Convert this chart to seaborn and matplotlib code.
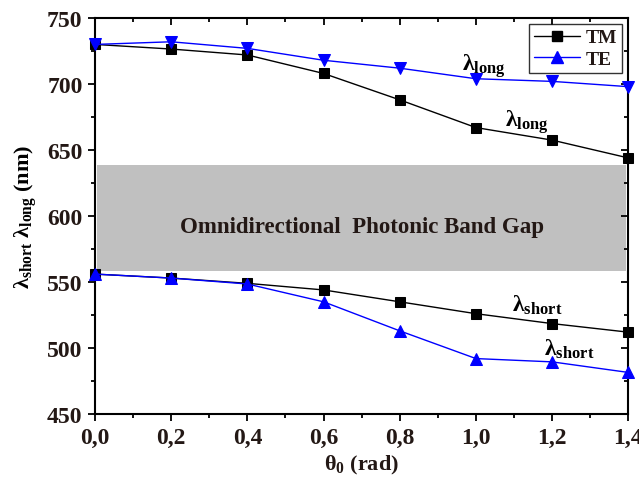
import numpy as np
import pandas as pd
import seaborn as sns
import matplotlib.pyplot as plt
from matplotlib.lines import Line2D
from matplotlib.ticker import MultipleLocator, FuncFormatter

theta = [0.0, 0.2, 0.4, 0.6, 0.8, 1.0, 1.2, 1.4]
tm_long = [730, 726.5, 722, 708, 688, 667, 657.5, 644]
tm_short = [556, 553, 549, 544, 535, 526, 518.5, 512]
te_long = [730, 732, 727, 718, 712, 704, 702, 698]
te_short = [556, 553, 548.5, 535, 513, 492, 489.5, 481.5]
gap_x = [0.005, 1.395]
gap_low, gap_high = 558, 639

sns.set_theme(style="ticks")
plt.rcParams['font.family'] = ['Liberation Serif', 'DejaVu Serif']
plt.rcParams['font.weight'] = 'bold'
plt.rcParams['mathtext.fontset'] = 'custom'
plt.rcParams['mathtext.rm'] = 'Liberation Serif:bold'
plt.rcParams['mathtext.it'] = 'Liberation Serif:bold'
plt.rcParams['mathtext.bf'] = 'Liberation Serif:bold'

fig = plt.figure(figsize=(6.39, 4.89), dpi=100)
ax = fig.add_axes([0.1487, 0.1513, 0.8346, 0.8098])

ax.fill_between(gap_x, gap_low, gap_high, color='#c0c0c0', lw=0, zorder=0)

df = pd.DataFrame({'theta': theta, 'tm_long': tm_long, 'tm_short': tm_short,
                   'te_long': te_long, 'te_short': te_short})

sns.lineplot(data=df, x='theta', y='tm_long', color='black', marker='s', markersize=7,
             markeredgecolor='black', lw=1, ax=ax, clip_on=False, zorder=3)
sns.lineplot(data=df, x='theta', y='tm_short', color='black', marker='s', markersize=7,
             markeredgecolor='black', lw=1, ax=ax, clip_on=False, zorder=3)
sns.lineplot(data=df, x='theta', y='te_long', color='blue', marker='v', markersize=8,
             markeredgecolor='blue', lw=1, ax=ax, clip_on=False, zorder=4)
sns.lineplot(data=df, x='theta', y='te_short', color='blue', marker='^', markersize=8,
             markeredgecolor='blue', lw=1, ax=ax, clip_on=False, zorder=4)

ax.set_xlim(0, 1.4)
ax.set_ylim(450, 750)
ax.xaxis.set_major_locator(MultipleLocator(0.2))
ax.xaxis.set_minor_locator(MultipleLocator(0.1))
ax.yaxis.set_major_locator(MultipleLocator(50))
ax.yaxis.set_minor_locator(MultipleLocator(25))
ax.xaxis.set_major_formatter(FuncFormatter(lambda v, p: f"{v:.1f}".replace('.', ',')))

for s in ax.spines.values():
    s.set_linewidth(1.5)
    s.set_color('black')
ax.tick_params(which='major', direction='out', length=5, width=1.3, labelsize=17,
               colors='black', labelcolor='#231815', pad=4)
ax.tick_params(which='minor', direction='out', length=3, width=1.3, colors='black')
ax.tick_params(axis='x', which='both', top=True, labeltop=False)
ax.tick_params(axis='y', which='both', right=True, labelright=False)
# top and right ticks point inward
for t in ax.xaxis.get_major_ticks() + ax.xaxis.get_minor_ticks():
    t.tick2line.set_marker(3)
for t in ax.yaxis.get_major_ticks() + ax.yaxis.get_minor_ticks():
    t.tick2line.set_marker(0)

ax.set_xlabel('θ$_0$ (rad)', fontsize=16, fontweight='bold', color='#231815', labelpad=4)
ax.set_ylabel('λ$_{short}$ λ$_{long}$ (nm)', fontsize=16, fontweight='bold',
              color='black', labelpad=6)

lab_kw = dict(fontsize=17, fontweight='bold', ha='center', va='center', color='black')
ax.text(1.02, 714, 'λ$_{long}$', **lab_kw)
ax.text(1.135, 672, 'λ$_{long}$', **lab_kw)
ax.text(1.16, 533, 'λ$_{short}$', **lab_kw)
ax.text(1.245, 500, 'λ$_{short}$', **lab_kw)
ax.text(0.70, 592, 'Omnidirectional  Photonic Band Gap', fontsize=16.5, fontweight='bold',
        ha='center', va='center', color='#231815')

handles = [Line2D([], [], color='black', marker='s', markersize=7, lw=1),
           Line2D([], [], color='blue', marker='^', markersize=8, lw=1)]
leg = ax.legend(handles, ['TM', 'TE'], loc='upper right', fontsize=14, frameon=True,
                fancybox=False, edgecolor='black', borderpad=0.25, handlelength=2.4,
                labelspacing=0.2, handletextpad=0.3, borderaxespad=0.3)
leg.get_frame().set_linewidth(1)
for t in leg.get_texts():
    t.set_color('#231815')

fig.savefig('out.png', dpi=100)
